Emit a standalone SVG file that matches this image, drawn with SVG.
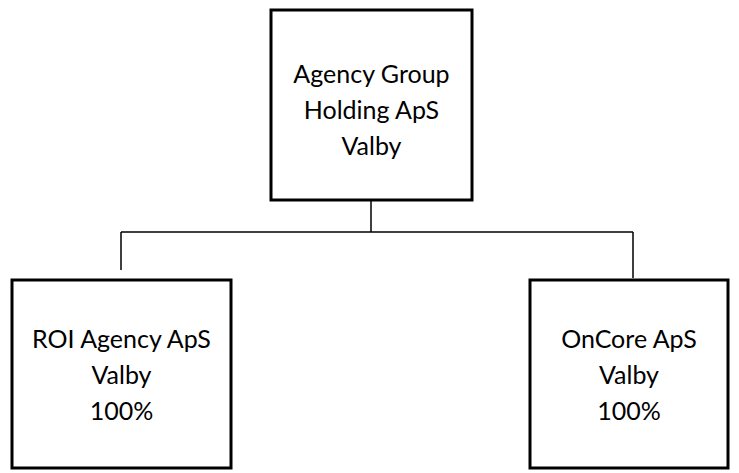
<svg xmlns="http://www.w3.org/2000/svg" width="739" height="473" viewBox="0 0 739 473">
<style>
.box{fill:#fff;stroke:#000;stroke-width:3}
.lbl{font-family:Lato,"Open Sans","Liberation Sans",sans-serif;font-size:25px;fill:#000;text-anchor:middle}
.conn{fill:none;stroke:#000;stroke-width:1.5}
</style>
<rect width="739" height="473" fill="#fff"/>
<g id="connectors">
<path class="conn" d="M371,200 V232 M121,232 H633 M121,232 V270 M633,232 V278"/>
</g>
<g id="node-holding">
<rect class="box" x="271" y="10" width="201" height="190"/>
<text class="lbl" x="371.5" y="83">Agency Group</text>
<text class="lbl" x="371.5" y="119">Holding ApS</text>
<text class="lbl" x="371.5" y="155">Valby</text>
</g>
<g id="node-roi">
<rect class="box" x="12" y="280" width="219" height="188"/>
<text class="lbl" x="121.5" y="348">ROI Agency ApS</text>
<text class="lbl" x="121.5" y="384">Valby</text>
<text class="lbl" x="121.5" y="420">100%</text>
</g>
<g id="node-oncore">
<rect class="box" x="530" y="280" width="198" height="188"/>
<text class="lbl" x="629" y="348">OnCore ApS</text>
<text class="lbl" x="629" y="384">Valby</text>
<text class="lbl" x="629" y="420">100%</text>
</g>
</svg>
